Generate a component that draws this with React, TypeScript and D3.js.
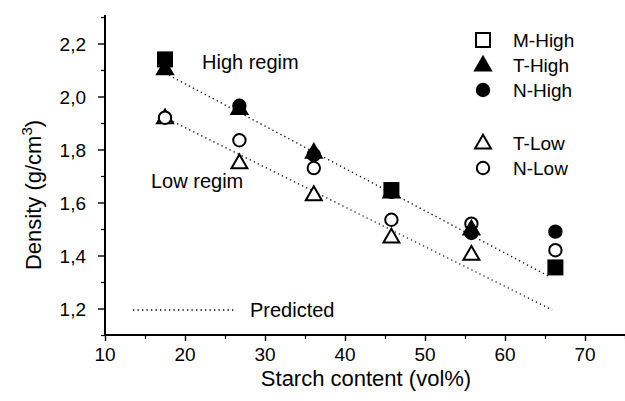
import * as d3 from "d3";
import { useEffect, useRef } from "react";

// starch content (vol%) and measured densities (g/cm3)
const mHighX = [17.5, 45.8, 66.3];
const mHighY = [2.14, 1.647, 1.355];
const tHighX = [17.5, 26.8, 36.1, 45.8, 55.8];
const tHighY = [2.105, 1.955, 1.79, 1.64, 1.5];
const nHighX = [26.8, 36.1, 45.8, 55.8, 66.3];
const nHighY = [1.965, 1.78, 1.64, 1.485, 1.49];
const tLowX = [17.5, 26.8, 36.1, 45.8, 55.8];
const tLowY = [1.92, 1.75, 1.63, 1.47, 1.405];
const nLowX = [17.5, 26.8, 36.1, 45.8, 55.8, 66.3];
const nLowY = [1.92, 1.835, 1.73, 1.535, 1.52, 1.42];

// predicted lines (end points)
const predHigh: [number, number][] = [[17.5, 2.088], [65.7, 1.318]];
const predLow: [number, number][] = [[17.5, 1.92], [65.9, 1.195]];

const xTicks = [10, 20, 30, 40, 50, 60, 70];
const xMinor = [15, 25, 35, 45, 55, 65, 75];
const yTicks = [1.2, 1.4, 1.6, 1.8, 2.0, 2.2];
const yMinor = [1.1, 1.3, 1.5, 1.7, 1.9, 2.1, 2.3];

const legendItems = [
  { label: "M-High", shape: "square", fill: false },
  { label: "T-High", shape: "triangle", fill: true },
  { label: "N-High", shape: "circle", fill: true },
  { label: "T-Low", shape: "triangle", fill: false },
  { label: "N-Low", shape: "circle", fill: false },
];

const font = "'Liberation Sans', Arial, Helvetica, sans-serif";

export default function App() {
  const ref = useRef(null);
  const width = 625;
  const height = 401;

  useEffect(() => {
    draw();
  });

  function draw() {
    const svg = d3.select(ref.current);
    svg.selectAll("*").remove();

    const x = d3.scaleLinear().domain([10, 75]).range([105, 625]);
    const y = d3.scaleLinear().domain([1.1, 2.3]).range([335, 17]);

    // axes: major and minor ticks
    const xMaj = svg
      .append("g")
      .attr("transform", "translate(0,335)")
      .call(d3.axisBottom(x).tickValues(xTicks).tickSize(6).tickFormat(() => ""));
    xMaj.select(".domain").attr("stroke-width", 2).attr("d", "M105,0H625");
    xMaj.selectAll(".tick line").attr("stroke-width", 1.4);
    const xMin = svg
      .append("g")
      .attr("transform", "translate(0,335)")
      .call(d3.axisBottom(x).tickValues(xMinor).tickSize(4).tickFormat(() => ""));
    xMin.select(".domain").remove();
    xMin.selectAll(".tick line").attr("stroke-width", 1.2);

    const yMaj = svg
      .append("g")
      .attr("transform", "translate(105,0)")
      .call(d3.axisLeft(y).tickValues(yTicks).tickSize(7).tickFormat(() => ""));
    yMaj.select(".domain").attr("stroke-width", 2).attr("d", "M0,335V15");
    yMaj.selectAll(".tick line").attr("stroke-width", 1.4);
    const yMin = svg
      .append("g")
      .attr("transform", "translate(105,0)")
      .call(d3.axisLeft(y).tickValues(yMinor).tickSize(4).tickFormat(() => ""));
    yMin.select(".domain").remove();
    yMin.selectAll(".tick line").attr("stroke-width", 1.2);

    // tick labels
    svg
      .append("g")
      .selectAll("text")
      .data(xTicks)
      .enter()
      .append("text")
      .attr("x", (d) => x(d))
      .attr("y", 361)
      .attr("text-anchor", "middle")
      .attr("font-family", font)
      .attr("font-size", 19)
      .text((d) => d);

    svg
      .append("g")
      .selectAll("text")
      .data(yTicks)
      .enter()
      .append("text")
      .attr("x", 86)
      .attr("y", (d) => y(d) + 7)
      .attr("text-anchor", "end")
      .attr("font-family", font)
      .attr("font-size", 19)
      .text((d) => d3.format(".1f")(d).replace(".", ","));

    // axis titles
    svg
      .append("text")
      .attr("x", 366)
      .attr("y", 386)
      .attr("text-anchor", "middle")
      .attr("font-family", font)
      .attr("font-size", 22)
      .text("Starch content (vol%)");

    const yl = svg
      .append("text")
      .attr("transform", "translate(41,195) rotate(-90)")
      .attr("text-anchor", "middle")
      .attr("font-family", font)
      .attr("font-size", 22);
    yl.append("tspan").text("Density (g/cm");
    yl.append("tspan").attr("dy", -9).attr("font-size", 15).text("3");
    yl.append("tspan").attr("dy", 9).text(")");

    // predicted lines
    const line = d3
      .line<[number, number]>()
      .x((d) => x(d[0]))
      .y((d) => y(d[1]));
    [predHigh, predLow].forEach((p) => {
      svg
        .append("path")
        .datum(p)
        .attr("d", line)
        .attr("fill", "none")
        .attr("stroke", "#000")
        .attr("stroke-width", 1.3)
        .attr("stroke-dasharray", "1.3,3.2");
    });

    // markers
    function marker(g: any, shape: string, fill: boolean, cx: number, cy: number) {
      const col = fill ? "#000" : "#fff";
      if (shape === "square") {
        g.append("rect")
          .attr("x", cx - 7)
          .attr("y", cy - 7)
          .attr("width", 14)
          .attr("height", 14)
          .attr("fill", col)
          .attr("stroke", "#000")
          .attr("stroke-width", 2);
      } else if (shape === "triangle") {
        g.append("path")
          .attr("d", d3.symbol(d3.symbolTriangle, 110)())
          .attr("transform", `translate(${cx},${cy + 1})`)
          .attr("fill", col)
          .attr("stroke", "#000")
          .attr("stroke-width", 2);
      } else {
        g.append("circle")
          .attr("cx", cx)
          .attr("cy", cy)
          .attr("r", 6.2)
          .attr("fill", col)
          .attr("stroke", "#000")
          .attr("stroke-width", 2);
      }
    }

    const pts = svg.append("g");
    tLowX.forEach((v, i) => marker(pts, "triangle", false, x(v), y(tLowY[i])));
    nLowX.forEach((v, i) => marker(pts, "circle", false, x(v), y(nLowY[i])));
    tHighX.forEach((v, i) => marker(pts, "triangle", true, x(v), y(tHighY[i])));
    nHighX.forEach((v, i) => marker(pts, "circle", true, x(v), y(nHighY[i])));
    mHighX.forEach((v, i) => marker(pts, "square", true, x(v), y(mHighY[i])));

    // annotations
    svg
      .append("text")
      .attr("x", 202)
      .attr("y", 69)
      .attr("font-family", font)
      .attr("font-size", 20)
      .text("High regim");
    svg
      .append("text")
      .attr("x", 151)
      .attr("y", 188)
      .attr("font-family", font)
      .attr("font-size", 20)
      .text("Low regim");

    svg
      .append("line")
      .attr("x1", 133)
      .attr("x2", 236)
      .attr("y1", 310)
      .attr("y2", 310)
      .attr("stroke", "#000")
      .attr("stroke-width", 1.3)
      .attr("stroke-dasharray", "1.3,3.2");
    svg
      .append("text")
      .attr("x", 250)
      .attr("y", 317)
      .attr("font-family", font)
      .attr("font-size", 20)
      .text("Predicted");

    // legend
    const rows = [40, 65, 90, 143, 168];
    const leg = svg.append("g");
    legendItems.forEach((d, i) => {
      marker(leg, d.shape, d.fill, 483, rows[i]);
      leg
        .append("text")
        .attr("x", 513)
        .attr("y", rows[i] + 7)
        .attr("font-family", font)
        .attr("font-size", 19)
        .text(d.label);
    });
  }

  return (
    <svg
      ref={ref}
      width={width}
      height={height}
      style={{ position: "absolute", left: 0, top: 0, background: "#fff" }}
    ></svg>
  );
}
